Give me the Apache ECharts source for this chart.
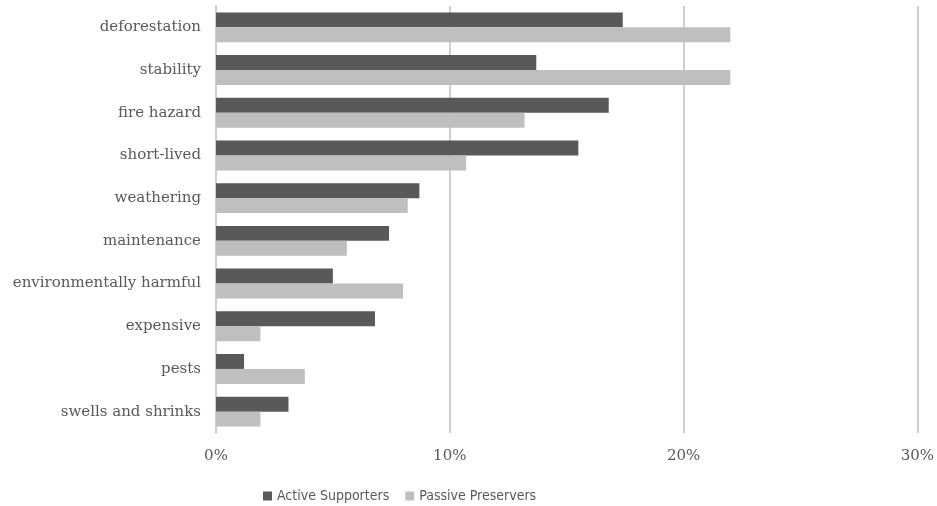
<!DOCTYPE html>
<html>
<head>
<meta charset="utf-8">
<script src="https://cdn.jsdelivr.net/npm/echarts@6/dist/echarts.min.js"></script>
<style>
  html, body { margin: 0; padding: 0; background: #fff; }
  #chart { width: 937px; height: 506px; }
</style>
</head>
<body>
<div id="chart"></div>
<script>
// Reasons cited, share of respondents (%) by group
const categories = [
  'deforestation', 'stability', 'fire hazard', 'short-lived', 'weathering',
  'maintenance', 'environmentally harmful', 'expensive', 'pests', 'swells and shrinks'
];
const activeSupporters = [17.4, 13.7, 16.8, 15.5, 8.7, 7.4, 5.0, 6.8, 1.2, 3.1];
const passivePreservers = [22.0, 22.0, 13.2, 10.7, 8.2, 5.6, 8.0, 1.9, 3.8, 1.9];
const xTicks = [0, 10, 20, 30];

const serif = '"DejaVu Serif", "Liberation Serif", serif';
const chart = echarts.init(document.getElementById('chart'), null, { renderer: 'canvas' });
chart.setOption({
  animation: false,
  backgroundColor: '#ffffff',
  grid: { left: 216, right: 19, top: 6, bottom: 73, containLabel: false },
  legend: {
    top: 484,
    left: 258,
    itemWidth: 9,
    itemHeight: 9,
    itemGap: 16,
    itemTextGap: 2,
    icon: 'rect',
    textStyle: { fontFamily: '"DejaVu Sans Condensed", "Liberation Sans", sans-serif', fontSize: 14, color: '#595959' },
    data: ['Active Supporters', 'Passive Preservers']
  },
  xAxis: {
    type: 'value',
    min: xTicks[0],
    max: xTicks[xTicks.length - 1],
    interval: 10,
    axisLine: { show: false },
    axisTick: { show: false },
    splitLine: { show: true, lineStyle: { color: '#cfcfcf', width: 2 } },
    axisLabel: {
      margin: 16,
      fontFamily: serif,
      fontSize: 15,
      color: '#595959',
      formatter: v => v + '%'
    }
  },
  yAxis: {
    type: 'category',
    inverse: true,
    data: categories,
    axisLine: { show: true, lineStyle: { color: '#cfcfcf', width: 2 } },
    axisTick: { show: false },
    axisLabel: { margin: 15, fontFamily: serif, fontSize: 15, color: '#595959' }
  },
  series: [
    {
      name: 'Active Supporters',
      type: 'bar',
      data: activeSupporters,
      barGap: '0%',
      barCategoryGap: '30%',
      itemStyle: { color: '#595959' }
    },
    {
      name: 'Passive Preservers',
      type: 'bar',
      data: passivePreservers,
      barGap: '0%',
      barCategoryGap: '30%',
      itemStyle: { color: '#bfbfbf' }
    }
  ]
});
</script>
</body>
</html>
